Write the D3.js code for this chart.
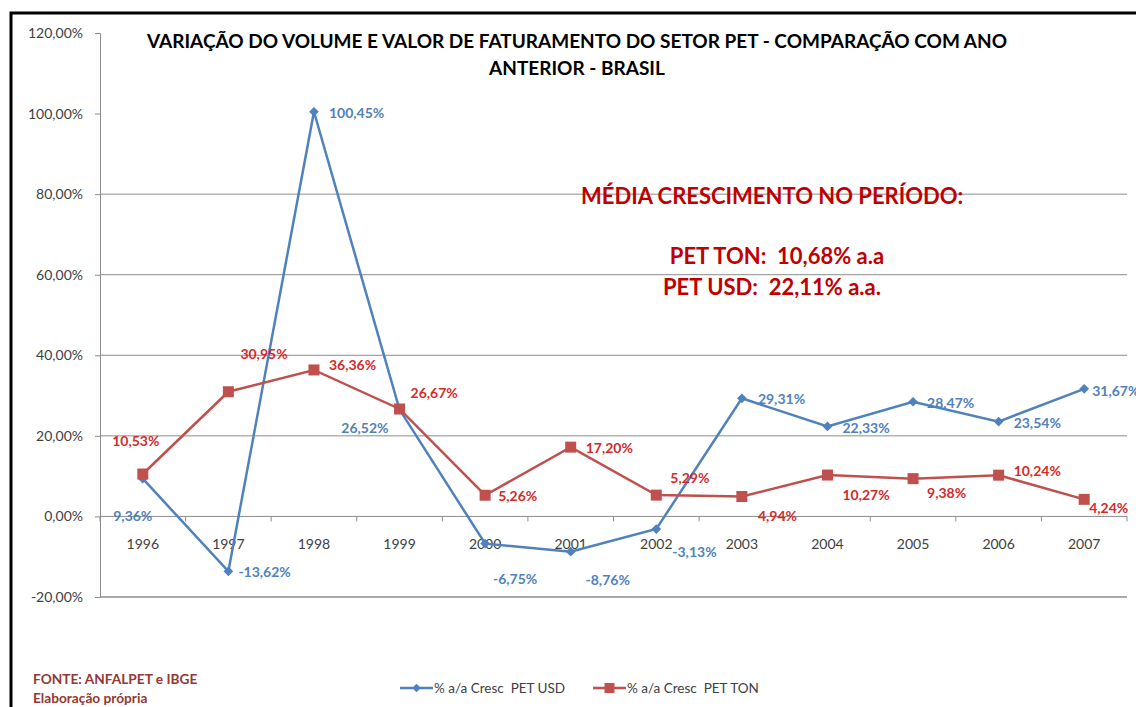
<!DOCTYPE html>
<html>
<head>
<meta charset="utf-8">
<script src="https://cdn.jsdelivr.net/npm/d3@7"></script>
<style>
  body { margin: 0; background: #fff; }
  text { font-family: Lato, "Open Sans", sans-serif; white-space: pre; }
</style>
</head>
<body>
<div id="chart"></div>
<script>
// data
var years = ["1996","1997","1998","1999","2000","2001","2002","2003","2004","2005","2006","2007"];
var petUsd = [9.36, -13.62, 100.45, 26.52, -6.75, -8.76, -3.13, 29.31, 22.33, 28.47, 23.54, 31.67];
var petTon = [10.53, 30.95, 36.36, 26.67, 5.26, 17.20, 5.29, 4.94, 10.27, 9.38, 10.24, 4.24];
var yTicks = [-20, 0, 20, 40, 60, 80, 100, 120];
var gridTicks = [20, 40, 60, 80];

// label placement relative to each point: [dx, dy, anchor]
var usdLabelPos = [[-10,42,"middle"],[10,6,"start"],[15,6,"start"],[-11,23,"end"],[30,40,"middle"],[37,33,"middle"],
                   [16,28,"start"],[16,6,"start"],[15,7,"start"],[14,6,"start"],[15,6,"start"],[8,7,"start"]];
var tonLabelPos = [[-7,-28,"middle"],[12,-33,"start"],[15,0,"start"],[11,-11,"start"],[13,6,"start"],[15,6,"start"],
                   [14,-12,"start"],[16,24,"start"],[15,25,"start"],[14,19,"start"],[15,1,"start"],[5,14,"start"]];

var width = 1136, height = 707;
var margin = {left: 100, right: 9, top: 33, bottom: 110};

var svg = d3.select("#chart").append("svg")
    .attr("width", width)
    .attr("height", height);

// frame
svg.append("path")
    .attr("d", "M11,707 V13 H1136")
    .attr("fill", "none")
    .attr("stroke", "#000")
    .attr("stroke-width", 3);

var x = d3.scalePoint()
    .domain(years)
    .range([margin.left, width - margin.right])
    .padding(0.5);

var y = d3.scaleLinear()
    .domain([-20, 120])
    .range([height - margin.bottom, margin.top]);

var ptBR = d3.formatLocale({decimal: ",", thousands: ".", grouping: [3], currency: ["R$", ""], minus: "-"});
var fmt = function(v){ return ptBR.format(".2f")(v) + "%"; };

// gridlines
svg.selectAll(".grid")
    .data(gridTicks)
    .enter()
    .append("line")
    .attr("x1", margin.left).attr("x2", width - margin.right)
    .attr("y1", function(d){ return y(d); }).attr("y2", function(d){ return y(d); })
    .attr("stroke", "#8c8c8c").attr("stroke-width", 1);

svg.append("line")
    .attr("x1", margin.left).attr("x2", width - margin.right)
    .attr("y1", y(-20)).attr("y2", y(-20))
    .attr("stroke", "#8c8c8c").attr("stroke-width", 1.5);

// y axis
var yAxis = svg.append("g")
    .attr("transform", "translate(" + margin.left + ",0)")
    .call(d3.axisLeft(y).tickValues(yTicks).tickFormat(fmt).tickSize(5).tickPadding(12));
yAxis.select(".domain").attr("stroke", "#8c8c8c");
yAxis.selectAll(".tick line").attr("stroke", "#8c8c8c");
yAxis.selectAll("text").attr("fill", "#404040").style("font-size", "14px").style("font-family", "Lato, sans-serif");

// x axis on zero, ticks between categories
var step = x.step();
var xAxis = svg.append("g").attr("transform", "translate(0," + y(0) + ")");
xAxis.append("line")
    .attr("x1", margin.left).attr("x2", width - margin.right)
    .attr("stroke", "#8c8c8c");
xAxis.selectAll(".xtick")
    .data(d3.range(years.length + 1))
    .enter()
    .append("line")
    .attr("x1", function(i){ return margin.left + i * step; })
    .attr("x2", function(i){ return margin.left + i * step; })
    .attr("y1", 0).attr("y2", 5)
    .attr("stroke", "#8c8c8c");
xAxis.selectAll(".xlabel")
    .data(years)
    .enter()
    .append("text")
    .attr("x", function(d){ return x(d); })
    .attr("y", 33)
    .attr("text-anchor", "middle")
    .attr("fill", "#404040")
    .style("font-size", "14px")
    .text(function(d){ return d; });

var blue = "#4f81bd", red = "#c0504d";

var line = d3.line()
    .x(function(d, i){ return x(years[i]); })
    .y(function(d){ return y(d); });

svg.append("path").datum(petUsd)
    .attr("d", line).attr("fill", "none")
    .attr("stroke", blue).attr("stroke-width", 2.5);

svg.append("path").datum(petTon)
    .attr("d", line).attr("fill", "none")
    .attr("stroke", red).attr("stroke-width", 2.5);

// markers
svg.selectAll(".usd")
    .data(petUsd)
    .enter()
    .append("path")
    .attr("d", d3.symbol(d3.symbolDiamond2, 60)())
    .attr("transform", function(d, i){ return "translate(" + x(years[i]) + "," + y(d) + ")"; })
    .attr("fill", blue);

svg.selectAll(".ton")
    .data(petTon)
    .enter()
    .append("rect")
    .attr("x", function(d, i){ return x(years[i]) - 5.5; })
    .attr("y", function(d){ return y(d) - 5.5; })
    .attr("width", 11).attr("height", 11)
    .attr("fill", red);

// data labels
function labels(values, pos, color){
    svg.selectAll(null)
        .data(values)
        .enter()
        .append("text")
        .attr("x", function(d, i){ return x(years[i]) + pos[i][0]; })
        .attr("y", function(d, i){ return y(d) + pos[i][1]; })
        .attr("text-anchor", function(d, i){ return pos[i][2]; })
        .attr("fill", color)
        .style("font-size", "14px")
        .style("font-weight", "bold")
        .text(fmt);
}
labels(petUsd, usdLabelPos, "#4f81bd");
labels(petTon, tonLabelPos, "#d42a2a");

// title
svg.append("text")
    .attr("x", 577).attr("y", 48)
    .attr("text-anchor", "middle")
    .style("font-size", "19px").style("font-weight", "bold")
    .attr("fill", "#000")
    .text("VARIAÇÃO DO VOLUME E VALOR DE FATURAMENTO DO SETOR PET - COMPARAÇÃO COM ANO");
svg.append("text")
    .attr("x", 577).attr("y", 75)
    .attr("text-anchor", "middle")
    .style("font-size", "19px").style("font-weight", "bold")
    .attr("fill", "#000")
    .text("ANTERIOR - BRASIL");

// average growth note
var note = svg.append("g").attr("fill", "#c00000").style("font-weight", "bold").style("font-size", "22px");
note.append("text").attr("x", 581).attr("y", 204).text("MÉDIA CRESCIMENTO NO PERÍODO:");
note.append("text").attr("x", 777).attr("y", 264).attr("text-anchor", "middle").text("PET TON:  10,68% a.a");
note.append("text").attr("x", 772).attr("y", 295).attr("text-anchor", "middle").text("PET USD:  22,11% a.a.");

// source
var src = svg.append("g").attr("fill", "#953734").style("font-weight", "bold").style("font-size", "13.7px");
src.append("text").attr("x", 33).attr("y", 684).text("FONTE: ANFALPET e IBGE");
src.append("text").attr("x", 33).attr("y", 703).text("Elaboração própria");

// legend
var legendItems = [
    {name: "% a/a Cresc  PET USD", color: blue, kind: "diamond", x: 400},
    {name: "% a/a Cresc  PET TON", color: red, kind: "square", x: 593}
];
var legend = svg.selectAll(".legend")
    .data(legendItems)
    .enter()
    .append("g")
    .attr("transform", function(d){ return "translate(" + d.x + ",688)"; });
legend.append("line")
    .attr("x1", 0).attr("x2", 33)
    .attr("stroke", function(d){ return d.color; })
    .attr("stroke-width", 2.5);
legend.append("path")
    .attr("transform", "translate(16.5,0)")
    .attr("d", function(d){
        return d.kind === "diamond" ? d3.symbol(d3.symbolDiamond2, 45)() : "M-5,-5H5V5H-5Z";
    })
    .attr("fill", function(d){ return d.color; });
legend.append("text")
    .attr("x", 34).attr("y", 5)
    .attr("fill", "#404040")
    .style("font-size", "13.5px")
    .text(function(d){ return d.name; });
</script>
</body>
</html>
